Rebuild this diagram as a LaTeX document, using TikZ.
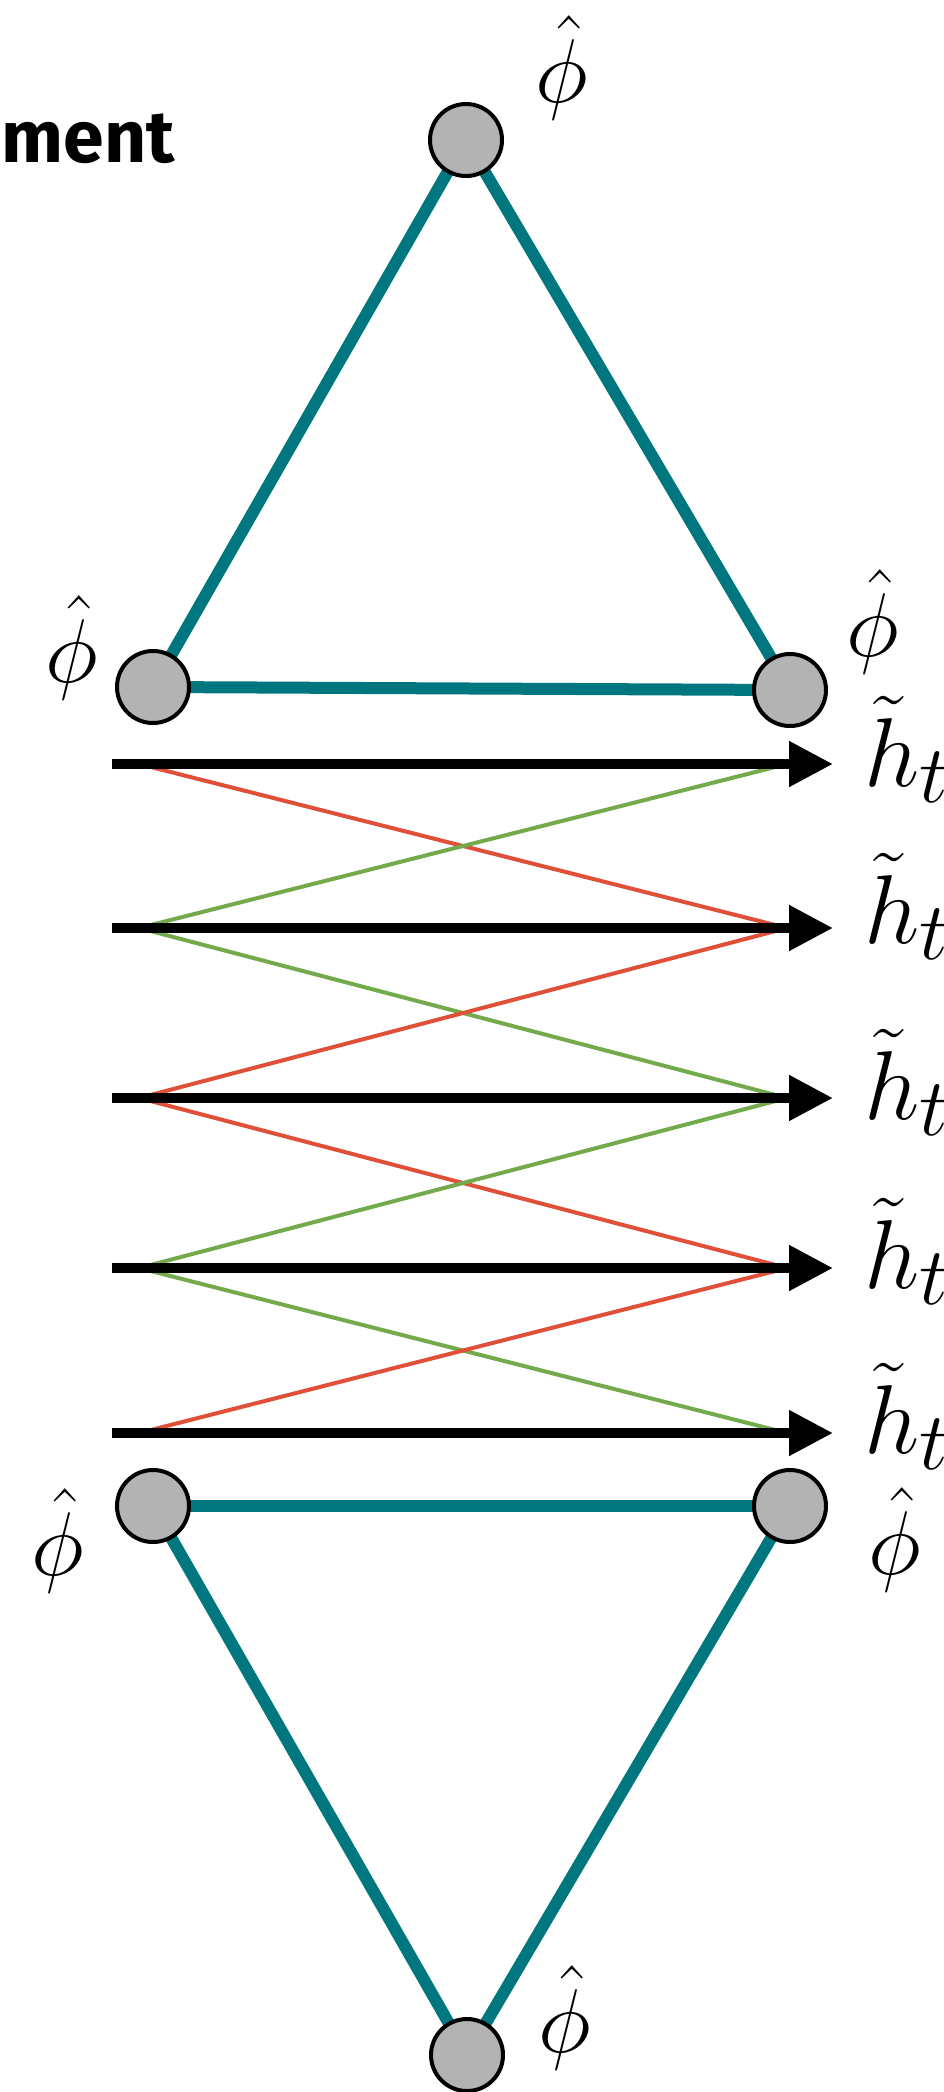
\documentclass[tikz,border=0pt]{standalone}
\usepackage{fontspec}
\newfontfamily\labelfont{Fira Sans}
\usetikzlibrary{arrows.meta}
\definecolor{tealc}{RGB}{0,118,127}
\definecolor{redc}{RGB}{224,80,56}
\definecolor{greenc}{RGB}{114,170,76}
\definecolor{grayc}{RGB}{178,179,178}
\newcommand{\bigphi}{\scalebox{2.73}{\Huge$\hat{\phi}$}}
\newcommand{\bigh}{\scalebox{2.95}{\Huge$\tilde{h}_t$}}
\tikzset{
  vtx/.style={circle, draw=black, fill=grayc, line width=3pt, minimum size=54pt, inner sep=0pt},
  edge/.style={draw=tealc, line width=9pt},
  flow/.style={draw=black, line width=7.5pt, -{Triangle[length=33pt,width=32.5pt]}},
  redl/.style={draw=redc, line width=3pt},
  greenl/.style={draw=greenc, line width=3pt},
  phil/.style={inner sep=0pt, anchor=base},
  hl/.style={inner sep=0pt, anchor=base west},
}
\begin{document}
\begin{tikzpicture}[x=0.75pt,y=-0.75pt]
\useasboundingbox (0,0) rectangle (943,2092);
% title fragment
\node[inner sep=0pt, anchor=base east, font=\labelfont\bfseries\fontsize{55}{66}\selectfont] (title) at (175,162) {ment};
% vertices
\coordinate (Tc) at (466,140);
\coordinate (ULc) at (153,687);
\coordinate (URc) at (790,690);
\coordinate (LLc) at (153,1506);
\coordinate (LRc) at (790,1506);
\coordinate (Bc) at (467,2055);
\draw[edge] (Tc) -- (ULc);
\draw[edge] (Tc) -- (URc);
\draw[edge] (ULc) -- (URc);
\draw[edge] (LLc) -- (LRc);
\draw[edge] (LLc) -- (Bc);
\draw[edge] (LRc) -- (Bc);
\node[vtx] (T) at (Tc) {};
\node[vtx] (UL) at (ULc) {};
\node[vtx] (UR) at (URc) {};
\node[vtx] (LL) at (LLc) {};
\node[vtx] (LR) at (LRc) {};
\node[vtx] (B) at (Bc) {};
% phi labels
\node[phil] (pT) at (562,102) {\bigphi};
\node[phil] (pUL) at (72,682) {\bigphi};
\node[phil] (pUR) at (873,656) {\bigphi};
\node[phil] (pLL) at (58,1575) {\bigphi};
\node[phil] (pLR) at (895,1574) {\bigphi};
\node[phil] (pB) at (565,2052) {\bigphi};
% arrow rows
\foreach \i/\y in {1/764,2/928,3/1098,4/1268,5/1433}{
  \coordinate (s\i) at (112,\y);
  \coordinate (e\i) at (833,\y);
  \coordinate (a\i) at (139,\y);
  \coordinate (b\i) at (787,\y);
}
% crossing lines
\draw[redl] (a1) -- (b2);
\draw[greenl] (a2) -- (b1);
\draw[greenl] (a2) -- (b3);
\draw[redl] (a3) -- (b2);
\draw[redl] (a3) -- (b4);
\draw[greenl] (a4) -- (b3);
\draw[greenl] (a4) -- (b5);
\draw[redl] (a5) -- (b4);
% black arrows
\foreach \i in {1,...,5}{
  \draw[flow] (s\i) -- (e\i);
}
% h labels
\node[hl] (h1) at (864,786) {\bigh};
\node[hl] (h2) at (864,943) {\bigh};
\node[hl] (h3) at (864,1119) {\bigh};
\node[hl] (h4) at (864,1288) {\bigh};
\node[hl] (h5) at (864,1453) {\bigh};
\end{tikzpicture}
\end{document}
